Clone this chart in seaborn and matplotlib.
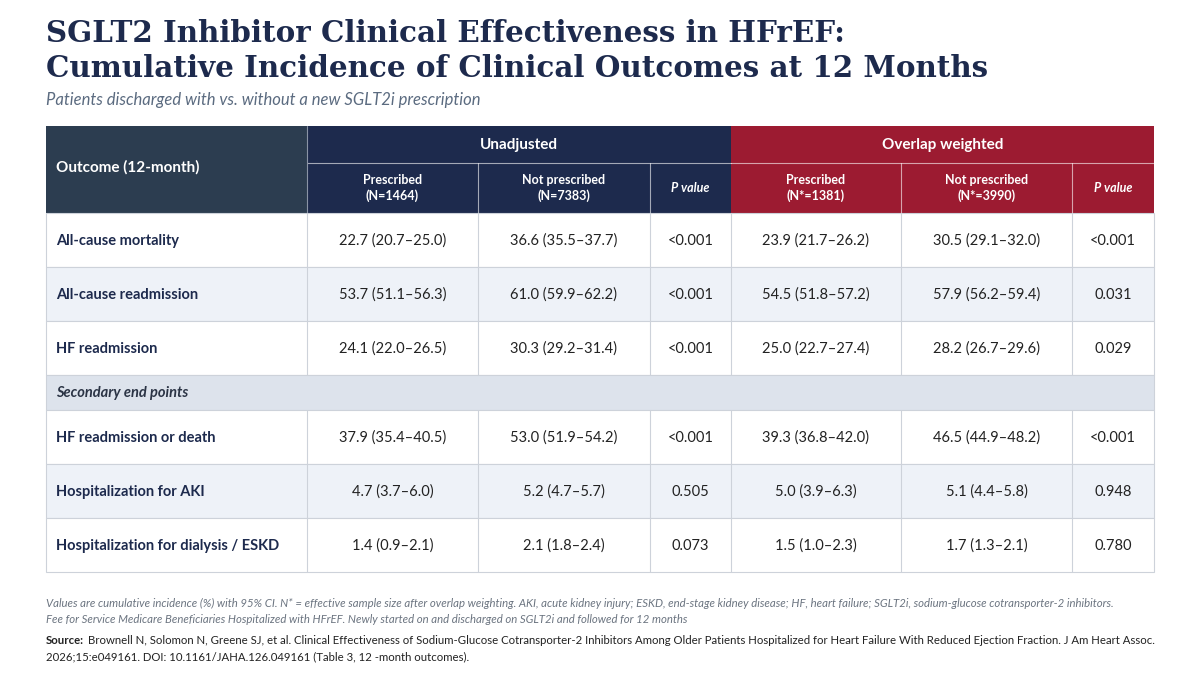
import numpy as np
import pandas as pd
import seaborn as sns
import matplotlib.pyplot as plt
from matplotlib.patches import Rectangle

outcomes = ["All-cause mortality", "All-cause readmission", "HF readmission",
            "HF readmission or death", "Hospitalization for AKI",
            "Hospitalization for dialysis / ESKD"]
secondary_label = "Secondary end points"
n_primary = 3

unadj_rx = [(22.7, 20.7, 25.0), (53.7, 51.1, 56.3), (24.1, 22.0, 26.5),
            (37.9, 35.4, 40.5), (4.7, 3.7, 6.0), (1.4, 0.9, 2.1)]
unadj_norx = [(36.6, 35.5, 37.7), (61.0, 59.9, 62.2), (30.3, 29.2, 31.4),
              (53.0, 51.9, 54.2), (5.2, 4.7, 5.7), (2.1, 1.8, 2.4)]
unadj_p = ["<0.001", "<0.001", "<0.001", "<0.001", "0.505", "0.073"]
ow_rx = [(23.9, 21.7, 26.2), (54.5, 51.8, 57.2), (25.0, 22.7, 27.4),
         (39.3, 36.8, 42.0), (5.0, 3.9, 6.3), (1.5, 1.0, 2.3)]
ow_norx = [(30.5, 29.1, 32.0), (57.9, 56.2, 59.4), (28.2, 26.7, 29.6),
           (46.5, 44.9, 48.2), (5.1, 4.4, 5.8), (1.7, 1.3, 2.1)]
ow_p = ["<0.001", "0.031", "0.029", "<0.001", "0.948", "0.780"]

groups = ["Unadjusted", "Overlap weighted"]
subheads = ["Prescribed\n(N=1464)", "Not prescribed\n(N=7383)", "P value",
            "Prescribed\n(N*=1381)", "Not prescribed\n(N*=3990)", "P value"]
first_head = "Outcome (12-month)"

title = ("SGLT2 Inhibitor Clinical Effectiveness in HFrEF:\n"
         "Cumulative Incidence of Clinical Outcomes at 12 Months")
subtitle = "Patients discharged with vs. without a new SGLT2i prescription"
note = ("Values are cumulative incidence (%) with 95% CI. N* = effective sample size after overlap weighting. "
        "AKI, acute kidney injury; ESKD, end-stage kidney disease; HF, heart failure; SGLT2i, sodium-glucose cotransporter-2 inhibitors.\n"
        "Fee for Service Medicare Beneficiaries Hospitalized with HFrEF. Newly started on and discharged on SGLT2i and followed for 12 months")
source_lines = ["Brownell N, Solomon N, Greene SJ, et al. Clinical Effectiveness of Sodium-Glucose Cotransporter-2 Inhibitors "
                "Among Older Patients Hospitalized for Heart Failure With Reduced Ejection Fraction. J Am Heart Assoc.",
                "2026;15:e049161. DOI: 10.1161/JAHA.126.049161 (Table 3, 12 -month outcomes)."]


def fmt(v):
    return f"{v[0]:.1f} ({v[1]:.1f}\u2013{v[2]:.1f})"


table = pd.DataFrame({
    "Outcome": outcomes,
    "u_rx": [fmt(v) for v in unadj_rx],
    "u_norx": [fmt(v) for v in unadj_norx],
    "u_p": unadj_p,
    "o_rx": [fmt(v) for v in ow_rx],
    "o_norx": [fmt(v) for v in ow_norx],
    "o_p": ow_p,
})

# ---- style
sns.set_theme(style="white")
plt.rcParams['font.family'] = ['Lato', 'DejaVu Sans']

NAVY = "#1d2a4d"
SLATE = "#2c3d50"
RED = "#9c1b31"
TEXT = "#222222"
GRID = "#cdd2da"
ALT = "#eef2f8"
SEC = "#dde3ec"
GREY = "#6b7480"

fig = plt.figure(figsize=(12, 6.75), dpi=100)
ax = fig.add_axes([0, 0, 1, 1])
ax.set_xlim(0, 1200)
ax.set_ylim(675, 0)
ax.axis("off")

ax.text(46, 19, title, fontsize=21.2, fontweight="bold", family="DejaVu Serif",
        color=NAVY, va="top", ha="left", linespacing=1.26)
ax.text(46, 100, subtitle, fontsize=12, style="italic", color="#5b6b80",
        va="center", ha="left")

# layout in pixel space
xs = [46, 307, 478, 650, 731, 901, 1072, 1154]
y_top, y_mid, y_head = 126, 163, 213
row_h, sec_h = 54, 35

# header
ax.add_patch(Rectangle((xs[0], y_top), xs[1] - xs[0], y_head - y_top, color=SLATE, lw=0))
ax.text(xs[0] + 10, (y_top + y_head) / 2 - 2, first_head, color="white",
        fontsize=11, fontweight="bold", va="center")
for g, (a, b, c) in enumerate([(1, 4, NAVY), (4, 7, RED)]):
    ax.add_patch(Rectangle((xs[a], y_top), xs[b] - xs[a], y_head - y_top, color=c, lw=0))
    ax.text((xs[a] + xs[b]) / 2, (y_top + y_mid) / 2, groups[g], color="white",
            fontsize=11, fontweight="bold", ha="center", va="center")
    ax.plot([xs[a], xs[b]], [y_mid, y_mid], color="white", lw=0.8, alpha=0.6)
    for k in range(a, b):
        lab = subheads[k - 1]
        ax.text((xs[k] + xs[k + 1]) / 2, (y_mid + y_head) / 2, lab, color="white",
                fontsize=9, fontweight="bold", ha="center", va="center",
                style="italic" if lab == "P value" else "normal", linespacing=1.3)
        if k > a:
            ax.plot([xs[k], xs[k]], [y_mid, y_head], color="white", lw=0.8, alpha=0.6)
ax.plot([xs[1], xs[1]], [y_top, y_head], color="#8a94a6", lw=0.8)

# body rows
y = y_head
cols = ["u_rx", "u_norx", "u_p", "o_rx", "o_norx", "o_p"]
for i, row in table.iterrows():
    if i == n_primary:
        ax.add_patch(Rectangle((xs[0], y), xs[-1] - xs[0], sec_h, facecolor=SEC,
                               edgecolor=GRID, lw=0.8))
        ax.text(xs[0] + 10, y + sec_h / 2, secondary_label, fontsize=10.5,
                fontweight="bold", style="italic", color="#2b3445", va="center")
        y += sec_h
    bg = ALT if i in (1, 4) else "white"
    ax.add_patch(Rectangle((xs[0], y), xs[-1] - xs[0], row_h, facecolor=bg,
                           edgecolor=GRID, lw=0.8))
    for x in xs[1:-1]:
        ax.plot([x, x], [y, y + row_h], color=GRID, lw=0.8)
    ax.text(xs[0] + 10, y + row_h / 2 + 1, row["Outcome"], fontsize=10.5,
            fontweight="bold", color=NAVY, va="center")
    for k, c in enumerate(cols):
        ax.text((xs[k + 1] + xs[k + 2]) / 2, y + row_h / 2 + 1, row[c], fontsize=10.5,
                color=TEXT, ha="center", va="center")
    y += row_h

# footnotes
ax.text(46, 598, note, fontsize=8.2, style="italic", color=GREY, va="top",
        ha="left", linespacing=1.5)
src_lab = ax.text(46, 635, "Source:", fontsize=8.2, fontweight="bold", color=TEXT,
                  va="top", ha="left")
fig.canvas.draw()
bb = src_lab.get_window_extent(renderer=fig.canvas.get_renderer())
ax.text(46 + bb.width + 4, 635, source_lines[0], fontsize=8.2, color=TEXT,
        va="top", ha="left")
ax.text(46, 651, source_lines[1], fontsize=8.2, color=TEXT, va="top", ha="left")

fig.savefig("out.png", dpi=100, facecolor="white")
